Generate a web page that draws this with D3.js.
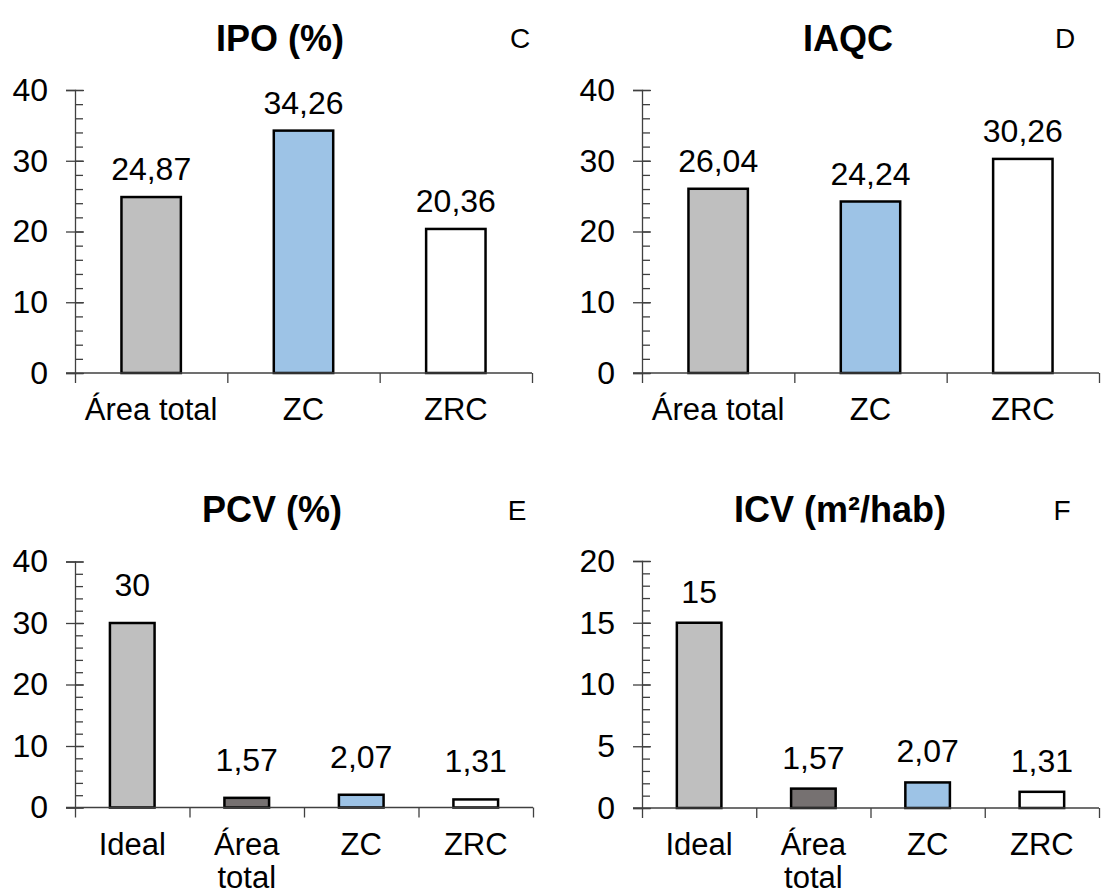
<!DOCTYPE html>
<html>
<head>
<meta charset="utf-8">
<script src="https://cdn.jsdelivr.net/npm/d3@7"></script>
<style>
  body { margin: 0; background: #fff; }
  svg { display: block; font-family: "Liberation Sans", Arial, sans-serif; }
</style>
</head>
<body>
<div class="charts"></div>
<script>
const width = 1101
const height = 895

// data
const topCategories = ["Área total", "ZC", "ZRC"]
const bottomCategories = ["Ideal", "Área total", "ZC", "ZRC"]
const ipoValues = [24.87, 34.26, 20.36]
const iaqcValues = [26.04, 24.24, 30.26]
const pcvValues = [30, 1.57, 2.07, 1.31]
const icvValues = [15, 1.57, 2.07, 1.31]
const pctTicks = [0, 10, 20, 30, 40]
const icvTicks = [0, 5, 10, 15, 20]
const titles = ["IPO (%)", "IAQC", "PCV (%)", "ICV (m²/hab)"]
const letters = ["C", "D", "E", "F"]

const topFills = ["#bfbfbf", "#9dc3e6", "#ffffff"]
const bottomFills = ["#bfbfbf", "#767171", "#9dc3e6", "#ffffff"]

const locale = d3.formatLocale({decimal: ",", thousands: ".", grouping: [3], currency: ["", ""]})
const fmt = locale.format(".2~f")

const panels = [
  {title: titles[0], letter: letters[0], cats: topCategories, values: ipoValues, ticks: pctTicks, minor: 2, fills: topFills,
   x0: 75, x1: 532, y0: 373, y1: 90, titleX: 280, titleY: 51, letterX: 520, letterY: 48, gap: 17},
  {title: titles[1], letter: letters[1], cats: topCategories, values: iaqcValues, ticks: pctTicks, minor: 2, fills: topFills,
   x0: 642, x1: 1099, y0: 373, y1: 90, titleX: 848, titleY: 51, letterX: 1065, letterY: 48, gap: 17},
  {title: titles[2], letter: letters[2], cats: bottomCategories, values: pcvValues, ticks: pctTicks, minor: 2, fills: bottomFills,
   x0: 75, x1: 533, y0: 807.5, y1: 561.5, titleX: 272, titleY: 522, letterX: 517, letterY: 520, gap: 27},
  {title: titles[3], letter: letters[3], cats: bottomCategories, values: icvValues, ticks: icvTicks, minor: 1, fills: bottomFills,
   x0: 642, x1: 1099, y0: 808, y1: 561, titleX: 840, titleY: 522, letterX: 1062, letterY: 520, gap: 20},
]

const svg = d3.create("svg")
  .attr("width", width)
  .attr("height", height)

// attach first so text can be measured for wrapping
document.querySelector(".charts").append(svg.node())

panels.forEach(p => drawPanel(svg, p))

function drawPanel(svg, p) {
  const g = svg.append("g")
  const ymax = d3.max(p.ticks)

  const x = d3.scaleBand()
    .domain(p.cats)
    .range([p.x0, p.x1])
    .padding(0)

  const xEdges = d3.scaleLinear()
    .domain([0, p.cats.length])
    .range([p.x0, p.x1])

  const y = d3.scaleLinear()
    .domain([0, ymax])
    .range([p.y0, p.y1])

  // minor ticks (inside only)
  g.append("g")
    .attr("transform", `translate(${p.x0},0)`)
    .call(d3.axisRight(y).tickValues(d3.range(0, ymax + 0.001, p.minor)).tickSize(8).tickFormat(""))
    .call(a => a.select(".domain").remove())
    .call(a => a.selectAll("line").attr("stroke", "#404040").attr("stroke-width", 1.3))

  // major ticks crossing the axis
  g.append("g")
    .attr("transform", `translate(${p.x0},0)`)
    .call(d3.axisLeft(y).tickValues(p.ticks).tickSizeOuter(0).tickSize(9).tickPadding(18))
    .call(a => a.select(".domain").attr("stroke", "#404040").attr("stroke-width", 1.3))
    .call(a => a.selectAll("line").attr("x2", -9).attr("x1", 9).attr("stroke", "#404040").attr("stroke-width", 1.3))
    .call(a => a.selectAll("text").style("font-size", "32px").attr("fill", "#000"))

  // bars
  const bw = x.bandwidth() * 0.39
  g.append("g")
    .selectAll("rect")
    .data(p.values)
    .join("rect")
    .attr("x", (d, i) => x(p.cats[i]) + (x.bandwidth() - bw) / 2)
    .attr("y", d => y(d))
    .attr("width", bw)
    .attr("height", d => y(0) - y(d))
    .attr("fill", (d, i) => p.fills[i])
    .attr("stroke", "#000")
    .attr("stroke-width", 2.5)

  // x axis with ticks at the category boundaries
  g.append("g")
    .attr("transform", `translate(0,${p.y0})`)
    .call(d3.axisBottom(xEdges).tickValues(d3.range(p.cats.length + 1)).tickSize(10).tickSizeOuter(0).tickFormat(""))
    .call(a => a.select(".domain").attr("stroke", "#404040").attr("stroke-width", 1.3).attr("d", `M${p.x0 - 9},0H${p.x1}`))
    .call(a => a.selectAll("line").attr("stroke", "#404040").attr("stroke-width", 1.3))

  // category labels, wrapped when too wide for the band
  const labels = g.append("g")
    .selectAll("text")
    .data(p.cats)
    .join("text")
    .attr("x", d => x(d) + x.bandwidth() / 2)
    .attr("y", p.y0 + 47)
    .attr("text-anchor", "middle")
    .style("font-size", "31px")
    .text(d => d)

  labels.each(function(d) {
    const t = d3.select(this)
    if (this.getComputedTextLength() > x.bandwidth() - 6) {
      const words = d.split(" ")
      const cx = t.attr("x")
      t.text(null)
      words.forEach((w, i) => {
        t.append("tspan").attr("x", cx).attr("dy", i === 0 ? 0 : 33).text(w)
      })
    }
  })

  // value labels
  g.append("g")
    .selectAll("text")
    .data(p.values)
    .join("text")
    .attr("x", (d, i) => x(p.cats[i]) + x.bandwidth() / 2)
    .attr("y", d => y(d) - p.gap)
    .attr("text-anchor", "middle")
    .style("font-size", "32px")
    .text(d => fmt(d))

  g.append("text")
    .attr("x", p.titleX)
    .attr("y", p.titleY)
    .attr("text-anchor", "middle")
    .style("font", "bold 36px 'Liberation Sans', Arial, sans-serif")
    .text(p.title)

  g.append("text")
    .attr("x", p.letterX)
    .attr("y", p.letterY)
    .attr("text-anchor", "middle")
    .style("font-size", "28px")
    .text(p.letter)
}
</script>
</body>
</html>
